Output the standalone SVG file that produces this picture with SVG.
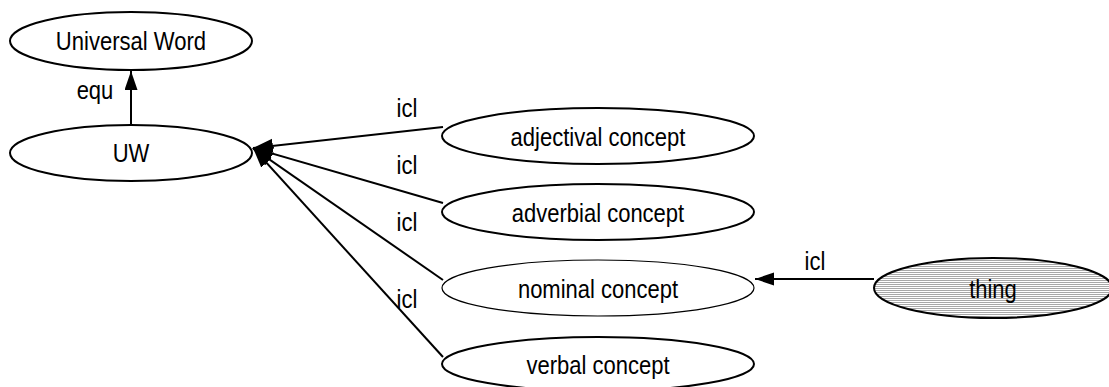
<svg xmlns="http://www.w3.org/2000/svg" width="1109" height="387" viewBox="0 0 1109 387">
<style>
.node{fill:#fff;stroke:#000;stroke-width:2}
.thin{stroke-width:1.2}
.lbl{font-family:"Liberation Sans",Arial,sans-serif;font-size:26px;fill:#000;text-anchor:middle}
.edge{stroke:#000;stroke-width:2;fill:none}
</style>
<defs>
<marker id="ah" markerUnits="userSpaceOnUse" markerWidth="22" markerHeight="16" refX="20" refY="7" orient="auto">
<path d="M0,0 L20,7 L0,14 z" fill="#000"/>
</marker>
<marker id="ah2" markerUnits="userSpaceOnUse" markerWidth="21" markerHeight="15" refX="19" refY="6.5" orient="auto">
<path d="M0,0 L19,6.5 L0,13 z" fill="#000"/>
</marker>
<pattern id="hatch" patternUnits="userSpaceOnUse" width="8" height="2">
<rect width="8" height="2" fill="#fff"/>
<line x1="0" y1="0.5" x2="8" y2="0.5" stroke="#a8a8a8" stroke-width="1"/>
</pattern>
</defs>
<g id="connectors">
<line class="edge" x1="131" y1="125" x2="131" y2="71" marker-end="url(#ah2)"/>
<line class="edge" x1="443" y1="127" x2="253" y2="148" marker-end="url(#ah)"/>
<line class="edge" x1="443" y1="203" x2="253" y2="148" marker-end="url(#ah)"/>
<line class="edge" x1="443" y1="280" x2="253" y2="148" marker-end="url(#ah)"/>
<line class="edge" x1="443" y1="357" x2="253" y2="148" marker-end="url(#ah)"/>
<line class="edge" x1="874" y1="279" x2="755" y2="279" marker-end="url(#ah2)"/>
<text class="lbl" x="95" y="99" textLength="36.7" lengthAdjust="spacingAndGlyphs">equ</text>
<text class="lbl" x="407" y="117" textLength="20.8" lengthAdjust="spacingAndGlyphs">icl</text>
<text class="lbl" x="407" y="174" textLength="20.8" lengthAdjust="spacingAndGlyphs">icl</text>
<text class="lbl" x="407" y="231" textLength="20.8" lengthAdjust="spacingAndGlyphs">icl</text>
<text class="lbl" x="407" y="308" textLength="20.8" lengthAdjust="spacingAndGlyphs">icl</text>
<text class="lbl" x="815" y="270" textLength="20.8" lengthAdjust="spacingAndGlyphs">icl</text>
</g>
<g id="node-universal-word">
<ellipse class="node" cx="131" cy="41" rx="121" ry="29"/>
<text class="lbl" x="131" y="50" textLength="150.3" lengthAdjust="spacingAndGlyphs">Universal Word</text>
</g>
<g id="node-uw">
<ellipse class="node" cx="131" cy="153" rx="121" ry="28"/>
<text class="lbl" x="131" y="162" textLength="36.7" lengthAdjust="spacingAndGlyphs">UW</text>
</g>
<g id="node-adjectival">
<ellipse class="node" cx="598" cy="136" rx="156" ry="28"/>
<text class="lbl" x="598" y="146" textLength="174.9" lengthAdjust="spacingAndGlyphs">adjectival concept</text>
</g>
<g id="node-adverbial">
<ellipse class="node" cx="598" cy="212" rx="156" ry="28"/>
<text class="lbl" x="598" y="222" textLength="172.4" lengthAdjust="spacingAndGlyphs">adverbial concept</text>
</g>
<g id="node-nominal">
<ellipse class="node thin" cx="598" cy="288" rx="156" ry="28"/>
<text class="lbl" x="598" y="298" textLength="160.2" lengthAdjust="spacingAndGlyphs">nominal concept</text>
</g>
<g id="node-verbal">
<ellipse class="node" cx="598" cy="364" rx="156" ry="27"/>
<text class="lbl" x="598" y="374" textLength="143.1" lengthAdjust="spacingAndGlyphs">verbal concept</text>
</g>
<g id="node-thing">
<ellipse class="node" cx="993" cy="288" rx="119" ry="30" style="fill:url(#hatch)"/>
<text class="lbl" x="993" y="298" textLength="47.7" lengthAdjust="spacingAndGlyphs">thing</text>
</g>
</svg>
